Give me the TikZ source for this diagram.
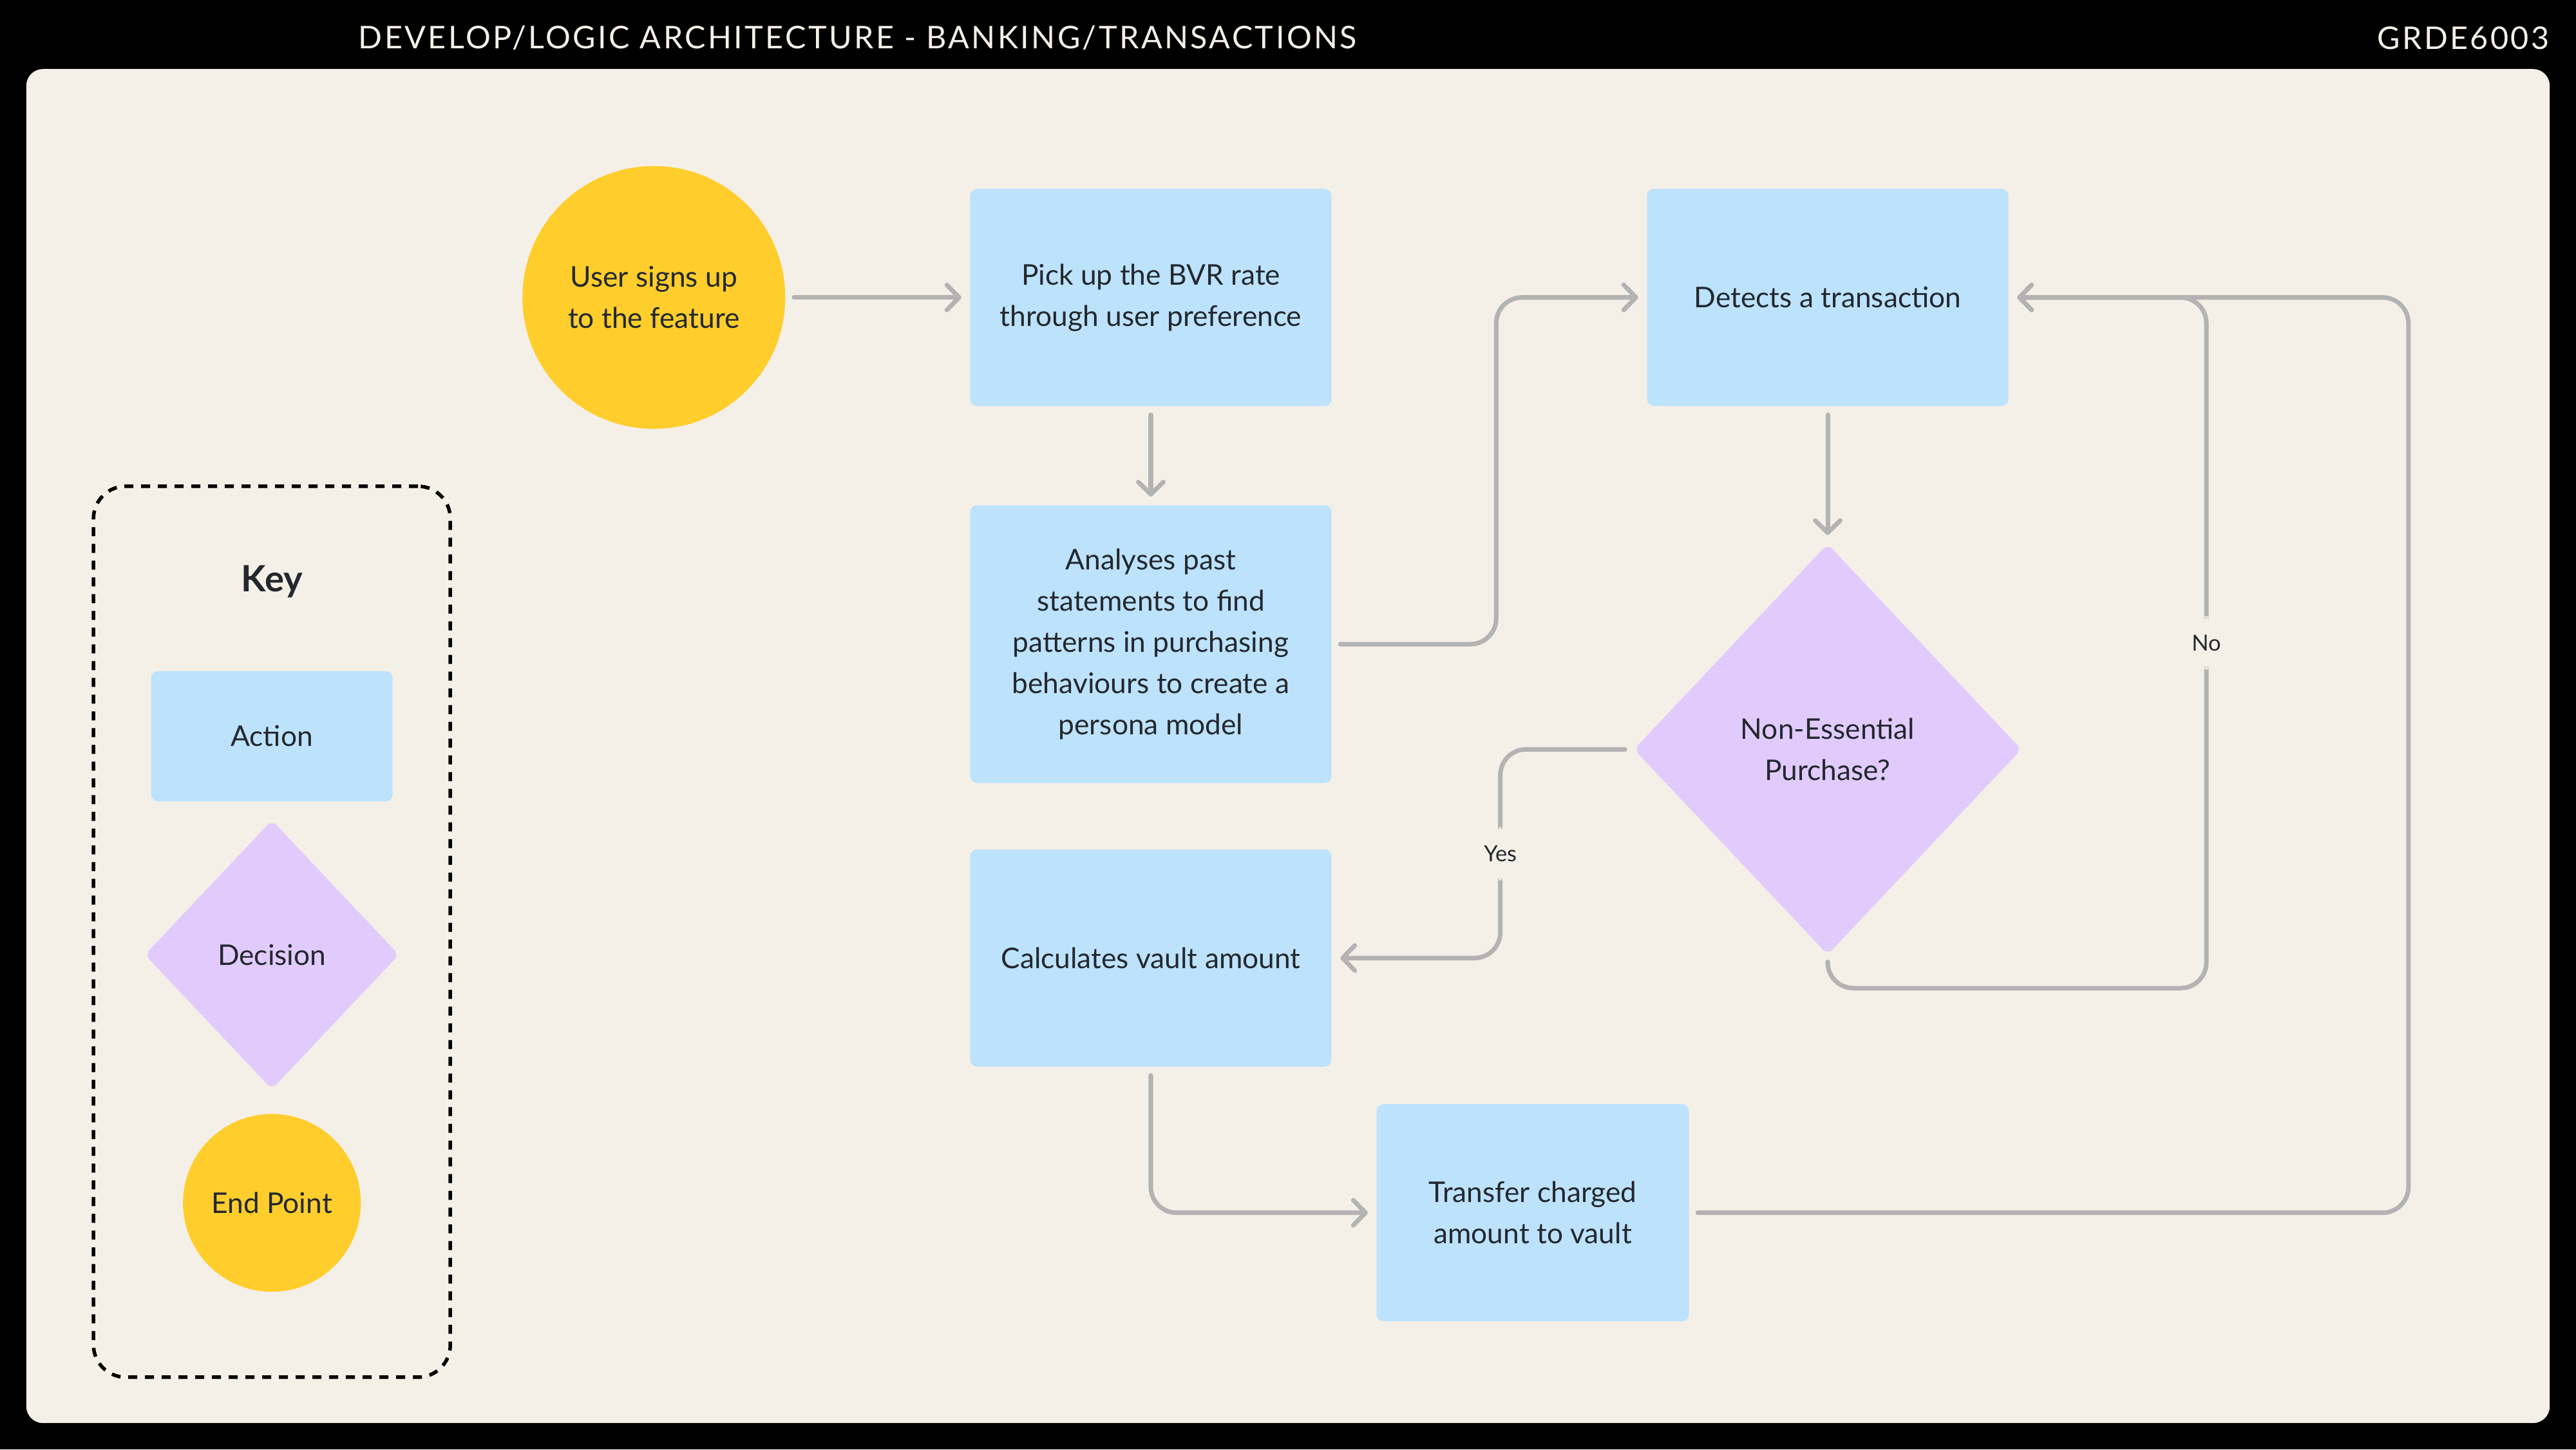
\documentclass[tikz,border=0pt]{standalone}
\usepackage{fontspec}
\setmainfont{Lato}
\newfontfamily\titlefont[LetterSpace=7]{Lato}
\usetikzlibrary{shapes.geometric,arrows.meta}
\definecolor{panel}{HTML}{F4F0E8}
\definecolor{sun}{HTML}{FFCD2C}
\definecolor{sky}{HTML}{BDE2FC}
\definecolor{lavender}{HTML}{E1CBFD}
\definecolor{wire}{HTML}{B3B3B3}
\definecolor{ink}{HTML}{23282E}
\tikzset{
  body/.style={font=\fontsize{12.6}{18.2}\selectfont, text=ink, align=center},
  action/.style={body, rectangle, fill=sky, rounded corners=3pt, inner sep=0pt,
    minimum width=56.1mm, minimum height=33.7mm},
  decision/.style={body, diamond, fill=lavender, rounded corners=3pt, inner sep=0pt},
  endpoint/.style={body, circle, fill=sun, inner sep=0pt},
  lbl/.style={font=\fontsize{9.8}{11}\selectfont, text=ink, fill=panel, inner xsep=1pt,
    inner ysep=0pt, minimum height=8.2mm},
  flow/.style={draw=wire, line width=2pt, line cap=round, rounded corners=4mm,
    shorten <=1.3mm, shorten >=1.3mm,
    -{Straight Barb[length=1.9mm,width=3.9mm,round]}}
}
\begin{document}
\begin{tikzpicture}[x=0.2551mm, y=-0.2551mm]
  \useasboundingbox (0,0) rectangle (1568,882);
  \fill[black] (0,0) rectangle (1568,882);
  \fill[panel, rounded corners=2.6mm] (16,42) rectangle (1552,866);
  \node[text=panel, font=\titlefont\fontsize{13.8}{15}\selectfont] (title) at (522,23)
    {DEVELOP/LOGIC ARCHITECTURE - BANKING/TRANSACTIONS};
  \node[text=panel, anchor=east, inner sep=0pt, font=\titlefont\fontsize{13.8}{15}\selectfont] (code) at (1552,23)
    {GRDE6003};

  \node[endpoint, minimum size=40.8mm] (start) at (398,181) {User signs up\\to the feature};
  \node[action] (pick) at (700.5,181) {Pick up the BVR rate\\through user preference};
  \node[action, minimum height=43.1mm] (analyses) at (700.5,392)
    {Analyses past\\statements to find\\patterns in purchasing\\behaviours to create a\\persona model};
  \node[action] (detects) at (1112.5,181) {Detects a transaction};
  \node[decision, minimum width=60.2mm, minimum height=63.8mm] (nonessential) at (1112.5,456)
    {Non-Essential\\Purchase?};
  \node[action] (calc) at (700.5,583) {Calculates vault amount};
  \node[action, minimum width=48.5mm] (transfer) at (933,738) {Transfer charged\\amount to vault};
  \coordinate (noturn) at (1343,181);
  \coordinate (loopback) at (1466,181);

  \begin{scope}[flow]
    \draw (start) -- (pick);
    \draw (pick) -- (analyses);
    \draw (analyses.east) -- ++(100,0) |- (detects.west);
    \draw (detects) -- (nonessential);
    \draw (nonessential.west) -- ++(-81,0) |- node[lbl, pos=0.25] {Yes} (calc.east);
    \draw[shorten <=0pt] (nonessential.south) ++(0,4) -- ++(0,16) -| node[lbl, pos=0.75] {No} (noturn) -- (detects.east);
    \draw (calc.south) |- (transfer.west);
    \draw (transfer.east) -| (loopback) -- (detects.east);
  \end{scope}

  \node[draw=black, line width=0.55mm, dash pattern=on 1.4mm off 1.2mm, rounded corners=5mm,
    minimum width=55.4mm, minimum height=138.3mm] (keyframe) at (165.5,567) {};
  \node[font=\bfseries\fontsize{16}{18}\selectfont, text=ink] (keytitle) at (165.5,354) {Key};
  \node[action, minimum width=37.5mm, minimum height=20.2mm] (keyaction) at (165.5,448) {Action};
  \node[decision, minimum width=39.5mm, minimum height=41.8mm] (keydecision) at (165.5,581) {Decision};
  \node[endpoint, minimum size=27.6mm] (keyend) at (165.5,732) {End Point};
\end{tikzpicture}
\end{document}
